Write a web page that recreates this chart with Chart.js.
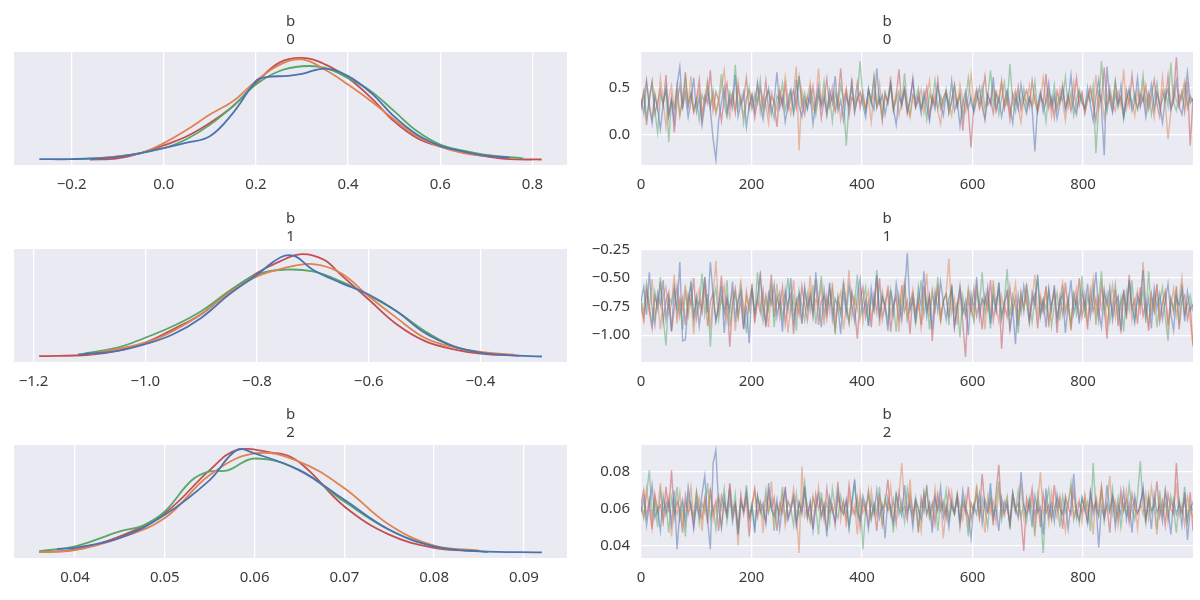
<!DOCTYPE html>
<html>
<head>
<meta charset="utf-8">
<title>b trace plot</title>
<script src="https://cdn.jsdelivr.net/npm/chart.js@4.4.0/dist/chart.umd.min.js"></script>
<style>
  body { margin: 0; background: #ffffff; width: 1200px; height: 600px; position: relative; overflow: hidden; }
  .panel { position: absolute; }
</style>
</head>
<body>
<script>
// KDE curves, one x/y pair of arrays per chain (blue, orange, green, red)
const kde0BlueX = [-0.27, -0.2, -0.1, 0.0, 0.05, 0.1, 0.15, 0.2, 0.22, 0.27, 0.3, 0.35, 0.4, 0.45, 0.5, 0.55, 0.6, 0.65, 0.7, 0.75];
const kde0BlueY = [0.02, 0.02, 0.08, 0.31, 0.45, 0.62, 1.23, 2.07, 2.17, 2.21, 2.26, 2.40, 2.20, 1.76, 1.14, 0.66, 0.37, 0.22, 0.11, 0.06];
const kde0OrangeX = [-0.15, -0.1, -0.05, 0.0, 0.05, 0.1, 0.15, 0.2, 0.25, 0.3, 0.35, 0.4, 0.45, 0.5, 0.55, 0.6, 0.65, 0.7, 0.75];
const kde0OrangeY = [0.03, 0.09, 0.18, 0.44, 0.79, 1.19, 1.54, 2.07, 2.49, 2.64, 2.37, 1.98, 1.54, 1.06, 0.62, 0.35, 0.18, 0.11, 0.06];
const kde0GreenX = [-0.2, -0.1, 0.0, 0.05, 0.1, 0.15, 0.2, 0.25, 0.3, 0.35, 0.4, 0.45, 0.5, 0.55, 0.6, 0.65, 0.7, 0.78];
const kde0GreenY = [0.02, 0.09, 0.31, 0.55, 0.92, 1.41, 1.98, 2.33, 2.46, 2.42, 2.15, 1.80, 1.28, 0.75, 0.40, 0.24, 0.13, 0.04];
const kde0RedX = [-0.16, -0.1, -0.05, 0.0, 0.05, 0.1, 0.15, 0.2, 0.25, 0.3, 0.35, 0.4, 0.45, 0.5, 0.55, 0.6, 0.65, 0.7, 0.75, 0.82];
const kde0RedY = [0.01, 0.04, 0.18, 0.38, 0.62, 0.97, 1.41, 2.02, 2.55, 2.68, 2.51, 2.15, 1.63, 1.01, 0.57, 0.35, 0.20, 0.09, 0.02, 0.01];

const kde1BlueX = [-1.12, -1.05, -1.0, -0.95, -0.9, -0.85, -0.8, -0.77, -0.75, -0.73, -0.7, -0.65, -0.6, -0.55, -0.5, -0.45, -0.4, -0.35, -0.29];
const kde1BlueY = [0.07, 0.17, 0.36, 0.64, 1.10, 1.76, 2.32, 2.69, 2.86, 2.83, 2.46, 2.09, 1.76, 1.29, 0.68, 0.31, 0.12, 0.05, 0.01];
const kde1OrangeX = [-1.1, -1.0, -0.95, -0.9, -0.85, -0.8, -0.75, -0.7, -0.65, -0.6, -0.55, -0.5, -0.45, -0.4, -0.34];
const kde1OrangeY = [0.07, 0.40, 0.73, 1.20, 1.81, 2.27, 2.51, 2.62, 2.37, 1.71, 1.10, 0.54, 0.28, 0.14, 0.06];
const kde1GreenX = [-1.11, -1.05, -1.0, -0.95, -0.9, -0.85, -0.8, -0.75, -0.7, -0.65, -0.6, -0.55, -0.5, -0.45, -0.4, -0.36];
const kde1GreenY = [0.09, 0.26, 0.54, 0.87, 1.29, 1.85, 2.32, 2.46, 2.41, 2.13, 1.74, 1.29, 0.73, 0.31, 0.12, 0.07];
const kde1RedX = [-1.19, -1.1, -1.05, -1.0, -0.95, -0.9, -0.85, -0.8, -0.76, -0.72, -0.68, -0.65, -0.6, -0.55, -0.5, -0.45, -0.4, -0.33];
const kde1RedY = [0.02, 0.06, 0.17, 0.40, 0.78, 1.20, 1.85, 2.37, 2.69, 2.90, 2.74, 2.32, 1.62, 0.92, 0.45, 0.22, 0.09, 0.03];

const kde2BlueX = [0.038, 0.04, 0.045, 0.05, 0.055, 0.058, 0.06, 0.065, 0.07, 0.075, 0.08, 0.085, 0.092];
const kde2BlueY = [1.8, 2.3, 6.8, 17.3, 33.1, 46.7, 45.2, 37.5, 24.1, 10.5, 3.0, 0.75, 0.2];
const kde2OrangeX = [0.036, 0.04, 0.045, 0.05, 0.055, 0.06, 0.065, 0.07, 0.075, 0.08, 0.085];
const kde2OrangeY = [0.3, 1.2, 6.8, 15.8, 35.4, 45.2, 41.4, 29.4, 12.8, 3.3, 1.05];
const kde2GreenX = [0.036, 0.04, 0.045, 0.0475, 0.05, 0.053, 0.055, 0.057, 0.06, 0.065, 0.07, 0.075, 0.08, 0.086];
const kde2GreenY = [0.75, 3.0, 9.8, 12.3, 18.8, 33.0, 37.0, 37.5, 42.9, 37.6, 23.3, 10.5, 3.0, 0.3];
const kde2RedX = [0.036, 0.04, 0.045, 0.05, 0.055, 0.058, 0.062, 0.064, 0.066, 0.07, 0.075, 0.08, 0.085];
const kde2RedY = [0.3, 1.5, 7.5, 18.1, 37.6, 46.7, 45.5, 43.7, 37.6, 21.1, 8.3, 2.3, 0.75];

// Trace samples (every 5th draw), one array per chain
const trace0Blue = [0.38,0.22,0.55,0.30,0.12,0.41,0.27,0.05,0.33,0.48,0.20,0.36,0.14,0.52,0.72,0.29,0.43,0.18,0.35,0.60,
  0.24,0.39,0.10,0.31,0.47,0.26,-0.05,-0.27,0.15,0.34,0.50,0.22,0.40,0.28,0.63,0.19,0.33,0.45,0.08,0.30,
  0.42,0.25,0.55,0.32,0.16,0.37,0.49,0.21,0.35,0.66,0.28,0.40,0.13,0.31,0.46,0.24,0.58,0.30,0.19,0.38,
  0.27,0.44,0.11,0.34,0.52,0.29,0.39,0.20,0.47,0.33,0.62,0.25,0.36,0.15,0.41,0.30,0.56,0.23,0.38,0.45,
  0.31,0.18,0.49,0.35,0.26,0.70,0.33,0.42,0.21,0.37,0.54,0.28,0.10,0.40,0.32,0.48,0.24,0.36,0.60,0.29,
  0.39,0.22,0.45,0.31,0.14,0.38,0.27,0.51,0.34,0.20,0.43,0.30,0.57,0.25,0.36,0.09,0.33,0.46,0.28,0.40,
  0.23,0.37,0.50,0.29,0.16,0.42,0.32,0.61,0.26,0.38,0.19,0.35,0.47,0.30,0.12,0.41,0.27,0.53,0.34,0.22,
  0.39,0.28,-0.18,0.31,0.45,0.24,0.36,0.55,0.29,0.42,0.17,0.33,0.48,0.26,0.38,0.63,0.30,0.21,0.44,0.35,
  0.27,0.50,0.32,0.15,0.40,0.58,0.28,-0.22,0.72,0.36,0.23,0.43,0.31,0.52,0.19,0.37,0.46,0.25,0.34,0.60,
  0.29,0.41,0.18,0.36,0.53,0.27,0.44,0.32,0.12,0.39,0.48,0.26,0.35,0.57,0.30,0.21,0.42,0.66,0.33,0.38];
const trace0Orange = [0.25,0.40,0.58,0.31,0.16,0.44,0.28,0.60,0.35,0.08,0.39,0.52,0.27,0.45,0.19,0.36,0.49,0.30,0.62,0.24,
  0.33,0.47,0.14,0.38,0.55,0.29,0.41,0.22,0.36,0.50,0.68,0.32,0.18,0.43,0.27,0.56,0.34,0.20,0.39,0.46,
  0.28,0.37,0.53,0.23,0.41,0.31,0.12,0.45,0.35,0.26,0.49,0.30,0.61,0.38,0.22,0.44,0.72,-0.17,0.47,0.29,
  0.40,0.55,0.26,0.36,0.70,0.32,0.45,0.21,0.38,0.51,0.28,0.42,0.15,0.35,0.48,0.30,0.59,0.24,0.39,0.33,
  0.46,0.27,0.37,0.13,0.43,0.31,0.54,0.25,0.40,0.34,0.62,0.29,0.44,0.20,0.36,0.50,0.32,0.18,0.41,0.28,
  0.35,0.48,0.23,0.39,0.57,0.30,0.42,0.26,0.11,0.37,0.46,0.33,0.20,0.43,0.29,0.53,0.36,0.24,0.40,0.64,
  0.31,0.45,0.27,0.38,0.16,0.42,0.34,0.50,0.25,0.39,0.58,0.30,0.44,0.21,0.36,0.47,0.28,0.13,0.40,0.33,
  0.52,0.29,0.41,0.24,0.37,0.60,0.32,0.45,0.19,0.38,0.27,0.49,0.35,0.15,0.42,0.31,0.55,0.26,0.39,0.44,
  0.22,0.36,0.48,0.30,0.63,0.28,0.41,0.17,0.37,0.51,0.33,0.25,0.45,0.31,0.69,0.27,0.40,0.35,0.20,0.46,
  0.32,0.54,0.26,0.43,0.38,0.18,0.47,0.29,0.61,0.34,-0.05,0.23,0.50,0.36,0.28,0.44,0.57,0.30,0.39,0.35];
const trace0Green = [0.30,0.46,0.18,0.37,0.55,0.25,0.02,0.41,0.33,0.49,-0.08,0.36,0.28,0.52,0.21,0.39,0.60,0.31,0.44,0.26,
  0.38,0.15,0.42,0.34,0.57,0.29,0.47,0.23,0.35,0.64,0.32,0.19,0.45,0.37,0.74,0.28,0.40,0.12,0.36,0.50,
  0.27,0.43,0.33,0.58,0.24,0.39,0.46,0.30,0.17,0.41,0.35,0.54,0.26,0.38,0.48,0.22,0.36,0.61,0.31,0.44,
  0.28,0.50,0.35,0.20,0.42,0.33,0.56,0.27,0.39,0.14,0.45,0.31,0.52,0.37,-0.12,0.34,0.48,0.29,0.41,0.78,
  0.36,0.25,0.47,0.32,0.59,0.28,0.40,0.18,0.44,0.34,0.53,0.26,0.38,0.46,0.30,0.65,0.33,0.21,0.42,0.37,
  0.49,0.29,0.39,0.16,0.43,0.34,0.57,0.27,0.41,0.31,0.48,0.22,0.36,0.52,0.30,0.42,0.19,0.37,0.60,0.33,
  0.26,0.45,0.35,0.51,0.28,0.40,0.68,0.32,0.44,0.21,0.38,0.55,0.30,0.75,0.36,0.24,0.43,0.33,0.49,0.27,
  0.39,0.31,0.56,0.25,0.42,0.35,0.14,0.46,0.32,0.53,0.28,0.40,0.36,0.61,0.29,0.44,0.20,0.37,0.48,0.33,
  0.27,0.42,0.35,0.52,-0.20,0.30,0.78,0.38,0.23,0.45,0.33,0.57,0.29,0.40,0.16,0.36,0.50,0.31,0.43,0.26,
  0.38,0.63,0.33,0.44,0.21,0.40,0.55,0.29,0.36,0.47,0.30,0.76,0.34,0.25,0.42,0.37,0.52,0.28,0.41,0.35];
const trace0Red = [0.28,0.45,0.10,0.38,0.56,0.22,0.34,0.48,0.31,0.63,0.19,0.40,0.02,0.35,0.52,0.27,0.66,0.30,0.43,0.24,
  0.37,0.58,0.21,0.41,0.33,0.68,0.26,0.45,0.36,0.14,0.39,0.54,0.29,0.43,0.23,0.50,0.32,0.38,0.60,0.27,
  0.42,0.18,0.36,0.49,0.30,0.57,0.25,0.40,0.34,0.08,0.44,0.31,0.53,0.26,0.38,0.47,0.29,0.62,0.35,0.21,
  0.40,0.33,0.51,0.27,0.45,0.17,0.37,0.59,0.30,0.43,0.24,0.36,0.70,0.32,0.48,0.20,0.39,0.34,0.55,0.28,
  0.41,0.26,0.47,0.35,0.61,0.29,0.38,0.14,0.44,0.33,0.52,0.25,0.40,0.69,0.31,0.46,0.22,0.37,0.56,0.30,
  0.43,0.27,0.36,0.50,0.19,0.41,0.32,0.58,0.28,0.39,0.46,0.23,0.35,0.53,0.30,0.44,0.04,0.38,0.25,-0.14,
  0.34,0.48,0.29,0.41,0.62,0.31,0.37,0.22,0.45,0.35,0.54,0.27,0.40,0.16,0.43,0.33,0.51,0.26,0.38,0.47,
  0.30,0.57,0.35,0.24,0.42,0.32,0.64,0.28,0.39,0.18,0.46,0.34,0.53,0.29,0.41,0.25,0.37,0.60,0.31,0.44,
  0.23,0.38,0.50,0.33,0.15,0.45,0.36,0.71,0.29,0.42,0.26,0.55,0.34,0.40,0.20,0.47,0.31,0.63,0.37,0.28,
  0.43,0.35,0.52,0.27,0.41,0.58,0.32,0.19,0.46,0.36,0.62,0.29,0.39,0.82,0.33,0.45,0.24,0.56,-0.12,0.38];

const trace1Blue = [-0.70,-0.58,-0.82,-0.45,-0.76,-0.91,-0.63,-0.74,-0.52,-0.86,-0.69,-0.96,-0.60,-0.78,-0.36,-1.05,-1.04,-0.72,-0.55,-0.83,
  -0.66,-0.92,-0.71,-0.49,-0.80,-0.36,-0.64,-0.88,-0.75,-0.57,-0.98,-0.68,-0.79,-0.53,-0.85,-0.70,-0.62,-0.94,-0.74,-1.07,
  -0.59,-0.81,-0.67,-0.48,-0.77,-0.89,-0.63,-0.73,-0.56,-0.84,-0.69,-0.97,-0.61,-0.78,-0.50,-0.87,-0.72,-0.64,-0.90,-0.58,
  -0.76,-0.66,-0.83,-0.45,-0.71,-0.93,-0.60,-0.79,-0.54,-0.86,-0.68,-0.75,-0.99,-0.62,-0.81,-0.57,-0.73,-0.88,-0.65,-0.51,
  -0.80,-0.70,-0.92,-0.59,-0.77,-0.47,-0.84,-0.67,-0.74,-0.96,-0.61,-0.82,-0.55,-0.72,-0.87,-0.64,-0.28,-0.78,-0.69,-0.90,
  -0.58,-0.75,-0.44,-0.83,-0.66,-0.95,-0.62,-0.79,-0.53,-0.71,-0.86,-0.68,-0.60,-0.92,-0.74,-0.57,-0.81,-0.70,-1.00,-0.64,
  -0.77,-0.49,-0.85,-0.68,-0.73,-0.58,-0.90,-0.66,-0.79,-0.54,-0.84,-0.71,-0.62,-0.95,-0.76,-1.08,-0.65,-0.80,-0.57,-0.72,
  -0.88,-0.63,-0.75,-0.47,-0.82,-0.69,-0.93,-0.60,-0.78,-0.56,-0.86,-0.70,-0.64,-0.98,-0.73,-0.52,-0.81,-0.67,-0.90,-0.61,
  -0.76,-0.55,-0.84,-0.69,-0.45,-0.79,-0.93,-0.62,-0.74,-0.58,-0.87,-0.71,-0.66,-0.96,-0.60,-0.80,-0.52,-0.75,-0.89,-0.65,
  -0.72,-0.43,-0.83,-0.68,-0.94,-0.59,-0.77,-0.64,-0.86,-0.70,-0.55,-0.81,-0.96,-0.67,-0.74,-0.60,-0.88,-0.62,-0.78,-0.73];
const trace1Orange = [-0.75,-0.88,-0.62,-0.79,-0.51,-0.84,-0.70,-0.95,-0.66,-0.58,-0.81,-0.73,-0.47,-0.90,-0.68,-0.77,-0.56,-0.86,-0.64,-0.99,
  -0.71,-0.60,-0.83,-0.49,-0.76,-0.92,-0.65,-0.35,-0.79,-0.69,-0.57,-0.88,-0.74,-0.62,-0.96,-0.70,-0.53,-0.82,-0.67,-0.78,
  -0.59,-0.87,-0.72,-0.44,-0.80,-0.66,-0.93,-0.61,-0.76,-0.55,-0.85,-0.70,-0.63,-0.98,-0.74,-0.52,-0.82,-0.68,-0.90,-0.60,
  -0.77,-0.48,-0.84,-0.69,-0.73,-0.57,-0.91,-0.65,-0.80,-0.54,-0.87,-0.71,-0.62,-0.95,-0.75,-0.43,-0.83,-0.67,-0.78,-0.58,
  -0.89,-0.70,-0.61,-0.85,-0.74,-0.50,-0.92,-0.66,-0.79,-0.56,-0.82,-0.72,-0.64,-0.97,-0.69,-0.53,-0.86,-0.76,-0.60,-0.81,
  -0.67,-0.94,-0.73,-0.46,-0.84,-0.62,-0.78,-0.55,-0.89,-0.70,-0.64,-0.33,-0.80,-0.68,-0.91,-0.59,-0.75,-0.83,-0.61,-0.72,
  -0.86,-0.57,-0.77,-0.69,-0.95,-0.63,-0.81,-0.52,-0.74,-0.88,-0.66,-0.79,-0.60,-0.97,-0.71,-0.55,-0.84,-0.68,-0.76,-0.62,
  -0.90,-0.70,-0.47,-0.82,-0.65,-0.78,-0.58,-0.93,-0.73,-0.61,-0.86,-0.69,-0.54,-0.80,-0.67,-0.96,-0.72,-0.59,-0.85,-0.75,
  -0.63,-0.88,-0.70,-0.51,-0.83,-0.66,-0.77,-0.60,-0.92,-0.73,-0.56,-0.84,-0.68,-0.99,-0.64,-0.79,-0.53,-0.87,-0.71,-0.61,
  -0.82,-0.36,-0.74,-0.90,-0.65,-0.78,-0.57,-0.86,-0.70,-0.62,-0.94,-0.75,-0.59,-0.83,-0.68,-0.49,-0.80,-0.72,-0.88,-1.08];
const trace1Green = [-0.68,-0.80,-0.55,-0.74,-0.90,-0.62,-0.77,-0.49,-0.85,-1.09,-0.66,-0.72,-0.58,-0.83,-0.70,-0.95,-0.61,-0.78,-0.53,-0.87,
  -0.69,-0.75,-0.46,-0.82,-0.64,-1.10,-0.71,-0.59,-0.86,-0.67,-0.79,-0.52,-0.92,-0.73,-0.63,-0.84,-0.57,-0.76,-0.98,-0.70,
  -0.60,-0.81,-0.45,-0.74,-0.88,-0.66,-0.78,-0.55,-0.93,-0.69,-0.62,-0.85,-0.72,-0.50,-0.80,-0.67,-0.96,-0.61,-0.75,-0.87,
  -0.64,-0.79,-0.56,-0.90,-0.71,-0.48,-0.83,-0.68,-0.74,-0.60,-0.99,-0.66,-0.81,-0.54,-0.76,-0.89,-0.63,-0.72,-0.47,-0.85,
  -0.70,-0.58,-0.92,-0.67,-0.78,-0.43,-0.84,-0.62,-0.75,-0.88,-0.60,-0.73,-0.97,-0.65,-0.80,-0.55,-0.86,-0.71,-0.63,-0.90,
  -0.74,-0.52,-0.82,-0.68,-0.95,-0.61,-0.77,-0.49,-0.85,-0.70,-0.64,-0.91,-0.57,-0.79,-0.72,-1.02,-0.66,-0.83,-0.59,-0.76,
  -0.88,-0.62,-0.73,-0.45,-0.81,-0.67,-0.94,-0.60,-0.78,-0.54,-0.86,-0.70,-0.42,-0.83,-0.65,-0.76,-0.98,-0.63,-0.80,-0.57,
  -0.72,-0.89,-0.66,-0.51,-0.84,-0.69,-0.77,-0.60,-0.92,-0.74,-0.63,-0.87,-0.56,-0.79,-0.68,-0.95,-0.61,-0.82,-0.71,-0.48,
  -0.85,-0.66,-0.76,-0.58,-0.91,-0.70,-0.44,-0.81,-0.64,-0.88,-0.73,-0.55,-0.83,-0.67,-0.97,-0.62,-0.78,-0.52,-0.86,-0.69,
  -0.75,-0.60,-0.89,-0.44,-0.80,-0.66,-0.93,-0.71,-0.58,-0.84,-1.05,-0.68,-0.77,-0.62,-0.90,-0.55,-0.82,-0.73,-0.65,-0.79];
const trace1Red = [-0.72,-0.86,-0.60,-0.79,-0.94,-0.66,-0.75,-0.53,-0.88,-0.70,-0.62,-0.97,-0.76,-0.57,-0.83,-0.68,-0.91,-0.64,-0.74,-0.50,
  -0.85,-0.69,-0.78,-0.56,-0.92,-0.71,-0.63,-0.87,-0.74,-0.48,-0.81,-0.67,-1.10,-0.73,-0.59,-0.84,-0.70,-0.95,-0.62,-0.77,
  -0.55,-0.89,-0.68,-0.80,-0.61,-0.93,-0.72,-0.47,-0.84,-0.66,-0.76,-0.58,-0.90,-0.71,-0.64,-0.99,-0.69,-0.82,-0.57,-0.74,
  -0.87,-0.63,-0.78,-0.52,-0.91,-0.70,-0.66,-0.85,-0.59,-0.76,-0.95,-0.68,-0.81,-0.54,-0.73,-0.89,-0.62,-0.77,-1.03,-0.69,
  -0.58,-0.84,-0.71,-0.93,-0.65,-0.80,-0.50,-0.86,-0.72,-0.61,-0.97,-0.74,-0.67,-0.88,-0.56,-0.79,-0.70,-0.99,-0.63,-0.82,
  -0.69,-0.91,-0.57,-0.78,-0.66,-1.05,-0.73,-0.60,-0.87,-0.70,-0.64,-0.85,-0.55,-0.93,-0.76,-0.62,-0.89,-1.19,-0.68,-0.80,
  -0.59,-0.83,-0.72,-0.95,-0.65,-0.78,-0.52,-0.87,-0.70,-0.61,-1.12,-0.74,-0.84,-0.58,-0.79,-0.67,-0.92,-0.63,-0.76,-0.55,
  -0.86,-0.71,-0.64,-0.94,-0.69,-0.80,-0.57,-0.88,-0.73,-0.62,-0.98,-0.67,-0.82,-0.54,-0.77,-0.90,-0.65,-0.75,-0.50,-0.84,
  -0.70,-0.95,-0.61,-0.79,-0.68,-0.87,-0.56,-0.74,-1.03,-0.66,-0.81,-0.60,-0.92,-0.72,-0.63,-0.86,-0.47,-0.77,-0.69,-0.90,
  -0.58,-0.83,-0.71,-0.96,-0.64,-0.79,-0.55,-0.88,-0.73,-0.62,-0.91,-0.68,-0.80,-0.57,-0.95,-0.70,-0.65,-0.86,-0.74,-1.10];

const trace2Blue = [0.058,0.066,0.051,0.062,0.073,0.055,0.060,0.048,0.067,0.057,0.064,0.052,0.070,0.038,0.059,0.065,0.053,0.072,0.061,0.049,
  0.063,0.056,0.068,0.078,0.054,0.038,0.085,0.092,0.060,0.050,0.066,0.057,0.071,0.053,0.062,0.046,0.064,0.059,0.069,0.055,
  0.061,0.047,0.067,0.058,0.063,0.052,0.074,0.060,0.056,0.065,0.049,0.062,0.070,0.054,0.059,0.066,0.051,0.063,0.057,0.072,
  0.055,0.064,0.048,0.061,0.068,0.056,0.062,0.045,0.066,0.059,0.053,0.071,0.060,0.057,0.065,0.050,0.063,0.076,0.058,0.054,
  0.067,0.061,0.049,0.064,0.057,0.070,0.055,0.062,0.044,0.066,0.059,0.052,0.068,0.061,0.056,0.073,0.058,0.063,0.050,0.065,
  0.060,0.054,0.069,0.057,0.063,0.047,0.066,0.059,0.072,0.055,0.061,0.050,0.064,0.058,0.067,0.053,0.070,0.060,0.056,0.044,
  0.062,0.057,0.068,0.052,0.065,0.059,0.074,0.055,0.061,0.048,0.066,0.058,0.063,0.051,0.069,0.060,0.055,0.080,0.062,0.057,
  0.064,0.050,0.067,0.058,0.061,0.046,0.071,0.056,0.063,0.053,0.068,0.060,0.057,0.065,0.049,0.062,0.079,0.058,0.054,0.066,
  0.060,0.052,0.069,0.057,0.064,0.039,0.061,0.055,0.073,0.059,0.066,0.050,0.062,0.057,0.070,0.054,0.063,0.047,0.067,0.058,
  0.061,0.072,0.055,0.064,0.049,0.068,0.058,0.062,0.053,0.070,0.060,0.046,0.065,0.057,0.063,0.051,0.069,0.043,0.059,0.064];
const trace2Orange = [0.064,0.056,0.071,0.060,0.049,0.066,0.058,0.074,0.053,0.062,0.067,0.045,0.061,0.057,0.069,0.052,0.063,0.059,0.072,0.055,
  0.060,0.066,0.048,0.064,0.057,0.070,0.054,0.061,0.067,0.050,0.063,0.058,0.073,0.055,0.062,0.040,0.065,0.059,0.068,0.053,
  0.061,0.070,0.056,0.063,0.047,0.066,0.059,0.075,0.054,0.062,0.057,0.068,0.051,0.064,0.060,0.071,0.058,0.036,0.083,0.056,
  0.062,0.053,0.067,0.059,0.072,0.055,0.063,0.048,0.066,0.058,0.061,0.075,0.054,0.064,0.050,0.068,0.057,0.062,0.046,0.069,
  0.058,0.063,0.052,0.070,0.060,0.056,0.066,0.049,0.064,0.059,0.072,0.055,0.061,0.067,0.085,0.062,0.058,0.076,0.054,0.065,
  0.060,0.048,0.068,0.057,0.063,0.052,0.071,0.059,0.065,0.044,0.062,0.056,0.069,0.058,0.068,0.061,0.054,0.066,0.050,0.063,
  0.059,0.073,0.055,0.062,0.047,0.067,0.058,0.064,0.053,0.070,0.060,0.056,0.065,0.050,0.068,0.061,0.057,0.074,0.055,0.063,
  0.058,0.066,0.049,0.062,0.080,0.057,0.064,0.052,0.069,0.060,0.055,0.067,0.059,0.048,0.063,0.071,0.056,0.061,0.065,0.053,
  0.068,0.058,0.063,0.046,0.067,0.060,0.072,0.055,0.062,0.078,0.057,0.064,0.051,0.066,0.059,0.070,0.054,0.061,0.065,0.049,
  0.063,0.057,0.068,0.055,0.072,0.060,0.046,0.065,0.058,0.070,0.053,0.064,0.059,0.074,0.056,0.062,0.051,0.067,0.060,0.055];
const trace2Green = [0.061,0.055,0.068,0.081,0.057,0.064,0.050,0.070,0.059,0.063,0.047,0.066,0.058,0.072,0.054,0.062,0.045,0.067,0.060,0.056,
  0.069,0.052,0.063,0.058,0.074,0.055,0.061,0.049,0.066,0.060,0.071,0.053,0.064,0.057,0.068,0.046,0.062,0.059,0.073,0.056,
  0.063,0.050,0.067,0.060,0.055,0.070,0.058,0.065,0.048,0.062,0.057,0.072,0.054,0.064,0.060,0.051,0.068,0.056,0.063,0.075,
  0.059,0.053,0.066,0.061,0.046,0.069,0.057,0.063,0.052,0.071,0.060,0.055,0.067,0.058,0.064,0.049,0.062,0.074,0.056,0.065,
  0.038,0.060,0.068,0.054,0.063,0.058,0.072,0.051,0.066,0.059,0.062,0.047,0.069,0.057,0.064,0.053,0.071,0.060,0.056,0.066,
  0.050,0.063,0.058,0.073,0.055,0.061,0.067,0.048,0.064,0.059,0.070,0.054,0.062,0.057,0.068,0.052,0.065,0.060,0.045,0.063,
  0.058,0.071,0.055,0.066,0.060,0.050,0.068,0.057,0.063,0.075,0.054,0.061,0.067,0.049,0.064,0.058,0.070,0.056,0.062,0.053,
  0.066,0.059,0.045,0.068,0.057,0.036,0.063,0.071,0.055,0.060,0.065,0.050,0.067,0.058,0.062,0.074,0.054,0.061,0.052,0.066,
  0.059,0.064,0.048,0.085,0.060,0.056,0.069,0.053,0.063,0.058,0.071,0.055,0.066,0.050,0.062,0.057,0.073,0.060,0.054,0.067,
  0.086,0.061,0.052,0.068,0.058,0.064,0.049,0.070,0.057,0.063,0.055,0.067,0.060,0.047,0.065,0.058,0.072,0.054,0.062,0.059];
const trace2Red = [0.063,0.070,0.056,0.065,0.049,0.068,0.059,0.062,0.053,0.072,0.058,0.081,0.055,0.064,0.060,0.047,0.067,0.057,0.063,0.051,
  0.069,0.060,0.055,0.066,0.052,0.071,0.058,0.064,0.048,0.067,0.061,0.056,0.074,0.059,0.063,0.050,0.068,0.057,0.065,0.045,
  0.062,0.071,0.056,0.064,0.059,0.053,0.069,0.060,0.066,0.048,0.063,0.058,0.072,0.055,0.061,0.067,0.052,0.064,0.059,0.070,
  0.056,0.063,0.049,0.068,0.060,0.065,0.054,0.071,0.058,0.062,0.051,0.067,0.059,0.064,0.055,0.073,0.061,0.057,0.066,0.050,
  0.064,0.058,0.070,0.055,0.062,0.048,0.067,0.060,0.063,0.076,0.057,0.065,0.052,0.069,0.059,0.061,0.054,0.068,0.058,0.063,
  0.047,0.066,0.060,0.071,0.056,0.063,0.052,0.068,0.059,0.064,0.055,0.070,0.061,0.057,0.066,0.050,0.063,0.058,0.072,0.054,
  0.062,0.067,0.056,0.079,0.061,0.058,0.065,0.051,0.069,0.084,0.057,0.064,0.060,0.053,0.068,0.059,0.063,0.055,0.037,0.066,
  0.060,0.071,0.056,0.064,0.050,0.068,0.058,0.062,0.054,0.073,0.059,0.065,0.049,0.067,0.061,0.057,0.070,0.055,0.063,0.058,
  0.066,0.052,0.069,0.060,0.064,0.056,0.072,0.058,0.062,0.047,0.067,0.061,0.055,0.070,0.059,0.065,0.053,0.068,0.060,0.057,
  0.063,0.070,0.054,0.066,0.059,0.061,0.075,0.056,0.064,0.051,0.068,0.060,0.057,0.085,0.062,0.058,0.066,0.053,0.069,0.048];

// Tick labels
const kdeTicks0 = [-0.2, 0.0, 0.2, 0.4, 0.6, 0.8];
const kdeTicks1 = [-1.2, -1.0, -0.8, -0.6, -0.4];
const kdeTicks2 = [0.04, 0.05, 0.06, 0.07, 0.08, 0.09];
const traceTicks0 = [0.0, 0.5];
const traceTicks1 = [-1.0, -0.75, -0.5, -0.25];
const traceTicks2 = [0.04, 0.06, 0.08];
const drawTicks = [0, 200, 400, 600, 800];

// Axis limits per parameter (b0, b1, b2) and the trace draw range
const paramLimits = [[-0.325, 0.875], [-1.235, -0.245], [0.0332, 0.0948]];
const kdePeaks = [2.70, 2.90, 46.7];
const lastDraw = 999;

const chainColors = ['#4c72b0', '#dd8452', '#55a868', '#c44e52'];
const traceColors = ['rgba(76,114,176,0.5)', 'rgba(221,132,82,0.5)', 'rgba(85,168,104,0.5)', 'rgba(196,78,82,0.5)'];

Chart.defaults.font.family = "'Noto Sans', 'DejaVu Sans', sans-serif";
Chart.defaults.color = '#3c3c3c';
Chart.defaults.animation = false;

const plotBackground = {
    id: 'plotBackground',
    beforeDraw(chart) {
        const { ctx, chartArea } = chart;
        ctx.save();
        ctx.fillStyle = '#eaeaf2';
        ctx.fillRect(chartArea.left, chartArea.top, chartArea.width, chartArea.height);
        ctx.restore();
    }
};

function fmt(v, decimals) {
    if (Math.abs(v) < 1e-9) v = 0;
    return v.toFixed(decimals).replace('-', '\u2212');
}

// x axes keep a fixed height and never shrink the plot for edge labels
function fitX(scale) {
    scale.height = 31;
    scale.paddingLeft = 0;
    scale.paddingRight = 0;
}

function axis(min, max, tickValues, decimals, extra) {
    return Object.assign({
        type: 'linear',
        min: min,
        max: max,
        border: { display: false },
        grid: { color: '#ffffff', lineWidth: 1.3, drawTicks: false },
        ticks: {
            autoSkip: false,
            maxRotation: 0,
            padding: 11,
            font: { size: 15 },
            callback: v => fmt(v, decimals)
        },
        afterBuildTicks(scale) {
            scale.ticks = tickValues.map(v => ({ value: v }));
        }
    }, extra);
}

function makePanel(left, top, width, height) {
    const div = document.createElement('div');
    div.className = 'panel';
    div.style.left = left + 'px';
    div.style.top = top + 'px';
    div.style.width = width + 'px';
    div.style.height = height + 'px';
    const canvas = document.createElement('canvas');
    div.appendChild(canvas);
    document.body.appendChild(div);
    return canvas;
}

function titleFor(i) {
    return {
        display: true,
        text: ['b', String(i)],
        color: '#3c3c3c',
        font: { size: 15, weight: 'normal' },
        padding: { top: 13, bottom: 3 }
    };
}

const kdeSets = [
    [[kde0BlueX, kde0BlueY], [kde0OrangeX, kde0OrangeY], [kde0GreenX, kde0GreenY], [kde0RedX, kde0RedY]],
    [[kde1BlueX, kde1BlueY], [kde1OrangeX, kde1OrangeY], [kde1GreenX, kde1GreenY], [kde1RedX, kde1RedY]],
    [[kde2BlueX, kde2BlueY], [kde2OrangeX, kde2OrangeY], [kde2GreenX, kde2GreenY], [kde2RedX, kde2RedY]]
];
const traceSets = [
    [trace0Blue, trace0Orange, trace0Green, trace0Red],
    [trace1Blue, trace1Orange, trace1Green, trace1Red],
    [trace2Blue, trace2Orange, trace2Green, trace2Red]
];
const kdeTickSets = [kdeTicks0, kdeTicks1, kdeTicks2];
const traceTickSets = [traceTicks0, traceTicks1, traceTicks2];
const kdeDecimals = [1, 1, 2];
const traceDecimals = [1, 2, 2];
const panelTops = [0, 197, 393];

function createKde(i) {
    const canvas = makePanel(14, panelTops[i], 553, 196);
    const [lo, hi] = paramLimits[i];
    const peak = kdePeaks[i];
    new Chart(canvas, {
        type: 'line',
        data: {
            datasets: kdeSets[i].map(([xs, ys], c) => ({
                data: xs.map((x, k) => ({ x: x, y: ys[k] })),
                borderColor: chainColors[c],
                borderWidth: 1.8,
                pointRadius: 0,
                tension: 0.4,
                fill: false
            }))
        },
        options: {
            responsive: true,
            maintainAspectRatio: false,
            layout: { padding: 0 },
            plugins: { legend: { display: false }, tooltip: { enabled: false }, title: titleFor(i) },
            scales: {
                x: axis(lo, hi, kdeTickSets[i], kdeDecimals[i], { afterFit: fitX }),
                y: { type: 'linear', display: false, min: -0.05 * peak, max: 1.05 * peak }
            }
        },
        plugins: [plotBackground]
    });
}

function createTrace(i) {
    const canvas = makePanel(581, panelTops[i], 612, 196);
    const [lo, hi] = paramLimits[i];
    new Chart(canvas, {
        type: 'line',
        data: {
            datasets: traceSets[i].map((values, c) => ({
                data: values.map((v, k) => ({ x: k * lastDraw / (values.length - 1), y: v })),
                borderColor: traceColors[c],
                borderWidth: 1.4,
                pointRadius: 0,
                tension: 0,
                fill: false
            }))
        },
        options: {
            responsive: true,
            maintainAspectRatio: false,
            layout: { padding: 0 },
            plugins: { legend: { display: false }, tooltip: { enabled: false }, title: titleFor(i) },
            scales: {
                x: axis(0, lastDraw, drawTicks, 0, { afterFit: fitX }),
                y: axis(lo, hi, traceTickSets[i], traceDecimals[i], { afterFit(scale) { scale.width = 60; } })
            }
        },
        plugins: [plotBackground]
    });
}

[0, 1, 2].forEach(i => {
    createKde(i);
    createTrace(i);
});
</script>
</body>
</html>
